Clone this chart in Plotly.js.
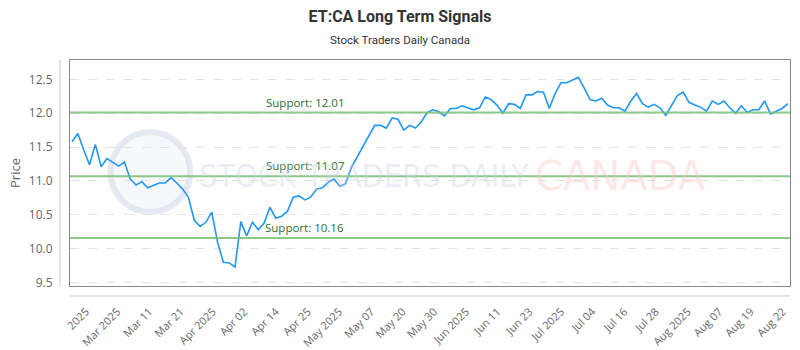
<!DOCTYPE html>
<html>
<head>
<meta charset="utf-8">
<script src="https://cdn.plot.ly/plotly-3.0.1.min.js"></script>
<style>html,body{margin:0;padding:0;background:#fff;}#chart{width:800px;height:350px;}</style>
</head>
<body>
<div id="chart"></div>
<script>
// Closing prices per trading session (index-based x axis)
const prices = [
  11.58, 11.70, 11.46, 11.24, 11.54, 11.21, 11.33, 11.28, 11.22, 11.28,
  11.03, 10.94, 10.99, 10.90, 10.94, 10.97, 10.97, 11.05, 10.97, 10.88,
  10.76, 10.42, 10.33, 10.39, 10.54, 10.10, 9.80, 9.79, 9.73, 10.40,
  10.19, 10.39, 10.28, 10.38, 10.61, 10.45, 10.48, 10.55, 10.76, 10.78,
  10.72, 10.76, 10.88, 10.90, 10.98, 11.03, 10.92, 10.96, 11.20, 11.36,
  11.52, 11.66, 11.82, 11.82, 11.78, 11.93, 11.91, 11.75, 11.82, 11.78,
  11.87, 12.01, 12.05, 12.02, 11.96, 12.07, 12.07, 12.11, 12.08, 12.05,
  12.08, 12.24, 12.20, 12.12, 12.00, 12.14, 12.13, 12.07, 12.27, 12.27,
  12.32,
  12.31, 12.07, 12.29, 12.45, 12.45, 12.49, 12.53, 12.37, 12.20, 12.18,
  12.22, 12.12, 12.08, 12.08, 12.03, 12.18, 12.29, 12.14, 12.09, 12.13,
  12.08, 11.97, 12.12, 12.26, 12.31, 12.16, 12.12, 12.09, 12.03, 12.18,
  12.13, 12.18, 12.08, 12.00, 12.11, 12.01, 12.05, 12.05, 12.18, 11.99,
  12.03, 12.07, 12.14
];
const sessionIndex = prices.map((_, i) => i);

const tickLabels = ["2025", "Mar 2025", "Mar 11", "Mar 21", "Apr 2025", "Apr 02", "Apr 14", "Apr 25",
  "May 2025", "May 07", "May 20", "May 30", "Jun 2025", "Jun 11", "Jun 23", "Jul 2025", "Jul 04",
  "Jul 16", "Jul 28", "Aug 2025", "Aug 07", "Aug 19", "Aug 22"];
const tickPositions = [2.4, 7.8, 13.3, 18.7, 24.2, 29.6, 35.0, 40.5, 45.9, 51.4, 56.8, 62.2,
  67.7, 73.1, 78.6, 84.0, 89.4, 94.9, 100.3, 105.8, 111.2, 116.6, 122.1];

const supportLevels = [12.01, 11.07, 10.16];
const supportLabels = ["Support: 12.01", "Support: 11.07", "Support: 10.16"];

const shapes = [];
const annotations = [];

// watermark logo circle
shapes.push({type: 'circle', xref: 'paper', yref: 'paper', layer: 'below',
  x0: 0.056, x1: 0.167, y0: 0.327, y1: 0.681,
  line: {color: 'rgba(205,214,230,0.5)', width: 6}, fillcolor: 'rgba(232,237,245,0.4)'});

supportLevels.forEach((v, i) => {
  shapes.push({type: 'line', xref: 'paper', x0: 0, x1: 1, yref: 'y', y0: v, y1: v,
    line: {color: 'rgba(120,190,120,0.85)', width: 2}, layer: 'above'});
  annotations.push({x: 40, y: v, xref: 'x', yref: 'y', text: supportLabels[i], showarrow: false,
    xanchor: 'center', yanchor: 'bottom', yshift: 1,
    font: {family: 'Open Sans, sans-serif', size: 11.5, color: '#2e6e2e'}});
});

// offset axis lines
shapes.push({type: 'line', xref: 'paper', yref: 'paper', x0: -0.014, x1: -0.014, y0: -0.003, y1: 1,
  line: {color: '#cccccc', width: 1}});
shapes.push({type: 'line', xref: 'paper', yref: 'paper', x0: 0, x1: 1, y0: -0.044, y1: -0.044,
  line: {color: '#cccccc', width: 1}});

// watermark texts
annotations.push({xref: 'paper', yref: 'paper', x: 0.408, y: 0.485, text: 'STOCK TRADERS DAILY',
  showarrow: false, xanchor: 'center', yanchor: 'middle',
  font: {family: 'DejaVu Sans Condensed, sans-serif', size: 32, color: 'rgba(200,210,228,0.4)'}});
annotations.push({xref: 'paper', yref: 'paper', x: 0.764, y: 0.485, text: 'CANADA',
  showarrow: false, xanchor: 'center', yanchor: 'middle',
  font: {family: 'DejaVu Sans, sans-serif', size: 40, color: 'rgba(250,195,195,0.4)'}});

// subtitle
annotations.push({xref: 'paper', yref: 'paper', x: 0.458, y: 1.0885, text: 'Stock Traders Daily Canada',
  showarrow: false, xanchor: 'center', yanchor: 'middle',
  font: {family: 'Roboto, sans-serif', size: 11.5, color: '#333'}});

const trace = {
  x: sessionIndex, y: prices, type: 'scatter', mode: 'lines',
  line: {color: '#2196f3', width: 1.6}, hoverinfo: 'y'
};

const layout = {
  width: 800, height: 350,
  margin: {l: 70, r: 10, t: 60, b: 64},
  paper_bgcolor: '#fff', plot_bgcolor: '#fff',
  showlegend: false,
  title: {text: '<b>ET:CA Long Term Signals</b>', x: 0.5, xanchor: 'center', xref: 'container',
    y: 1 - 16/350, yref: 'container', yanchor: 'middle',
    font: {family: 'Roboto, sans-serif', size: 16, color: '#333'}},
  xaxis: {range: [-0.35, 123.35], tickvals: tickPositions, ticktext: tickLabels, tickangle: -45,
    showgrid: false, zeroline: false, showline: true, mirror: true, linecolor: '#888', linewidth: 1,
    ticks: 'outside', ticklen: 14, tickcolor: 'rgba(0,0,0,0)',
    tickfont: {family: 'Open Sans, sans-serif', size: 11, color: '#666'}},
  yaxis: {range: [9.45, 12.785], tickvals: [9.5, 10, 10.5, 11, 11.5, 12, 12.5], tickformat: '.1f',
    showgrid: true, gridcolor: '#e4e4e4', griddash: 'dash', zeroline: false,
    showline: true, mirror: true, linecolor: '#888', linewidth: 1,
    ticks: 'outside', ticklen: 14, tickcolor: 'rgba(0,0,0,0)',
    tickfont: {family: 'Open Sans, sans-serif', size: 12, color: '#666'},
    title: {text: 'Price', standoff: 5, font: {family: 'Open Sans, sans-serif', size: 13, color: '#666'}}},
  shapes: shapes,
  annotations: annotations
};

Plotly.newPlot('chart', [trace], layout, {displayModeBar: false, staticPlot: true});
</script>
</body>
</html>
